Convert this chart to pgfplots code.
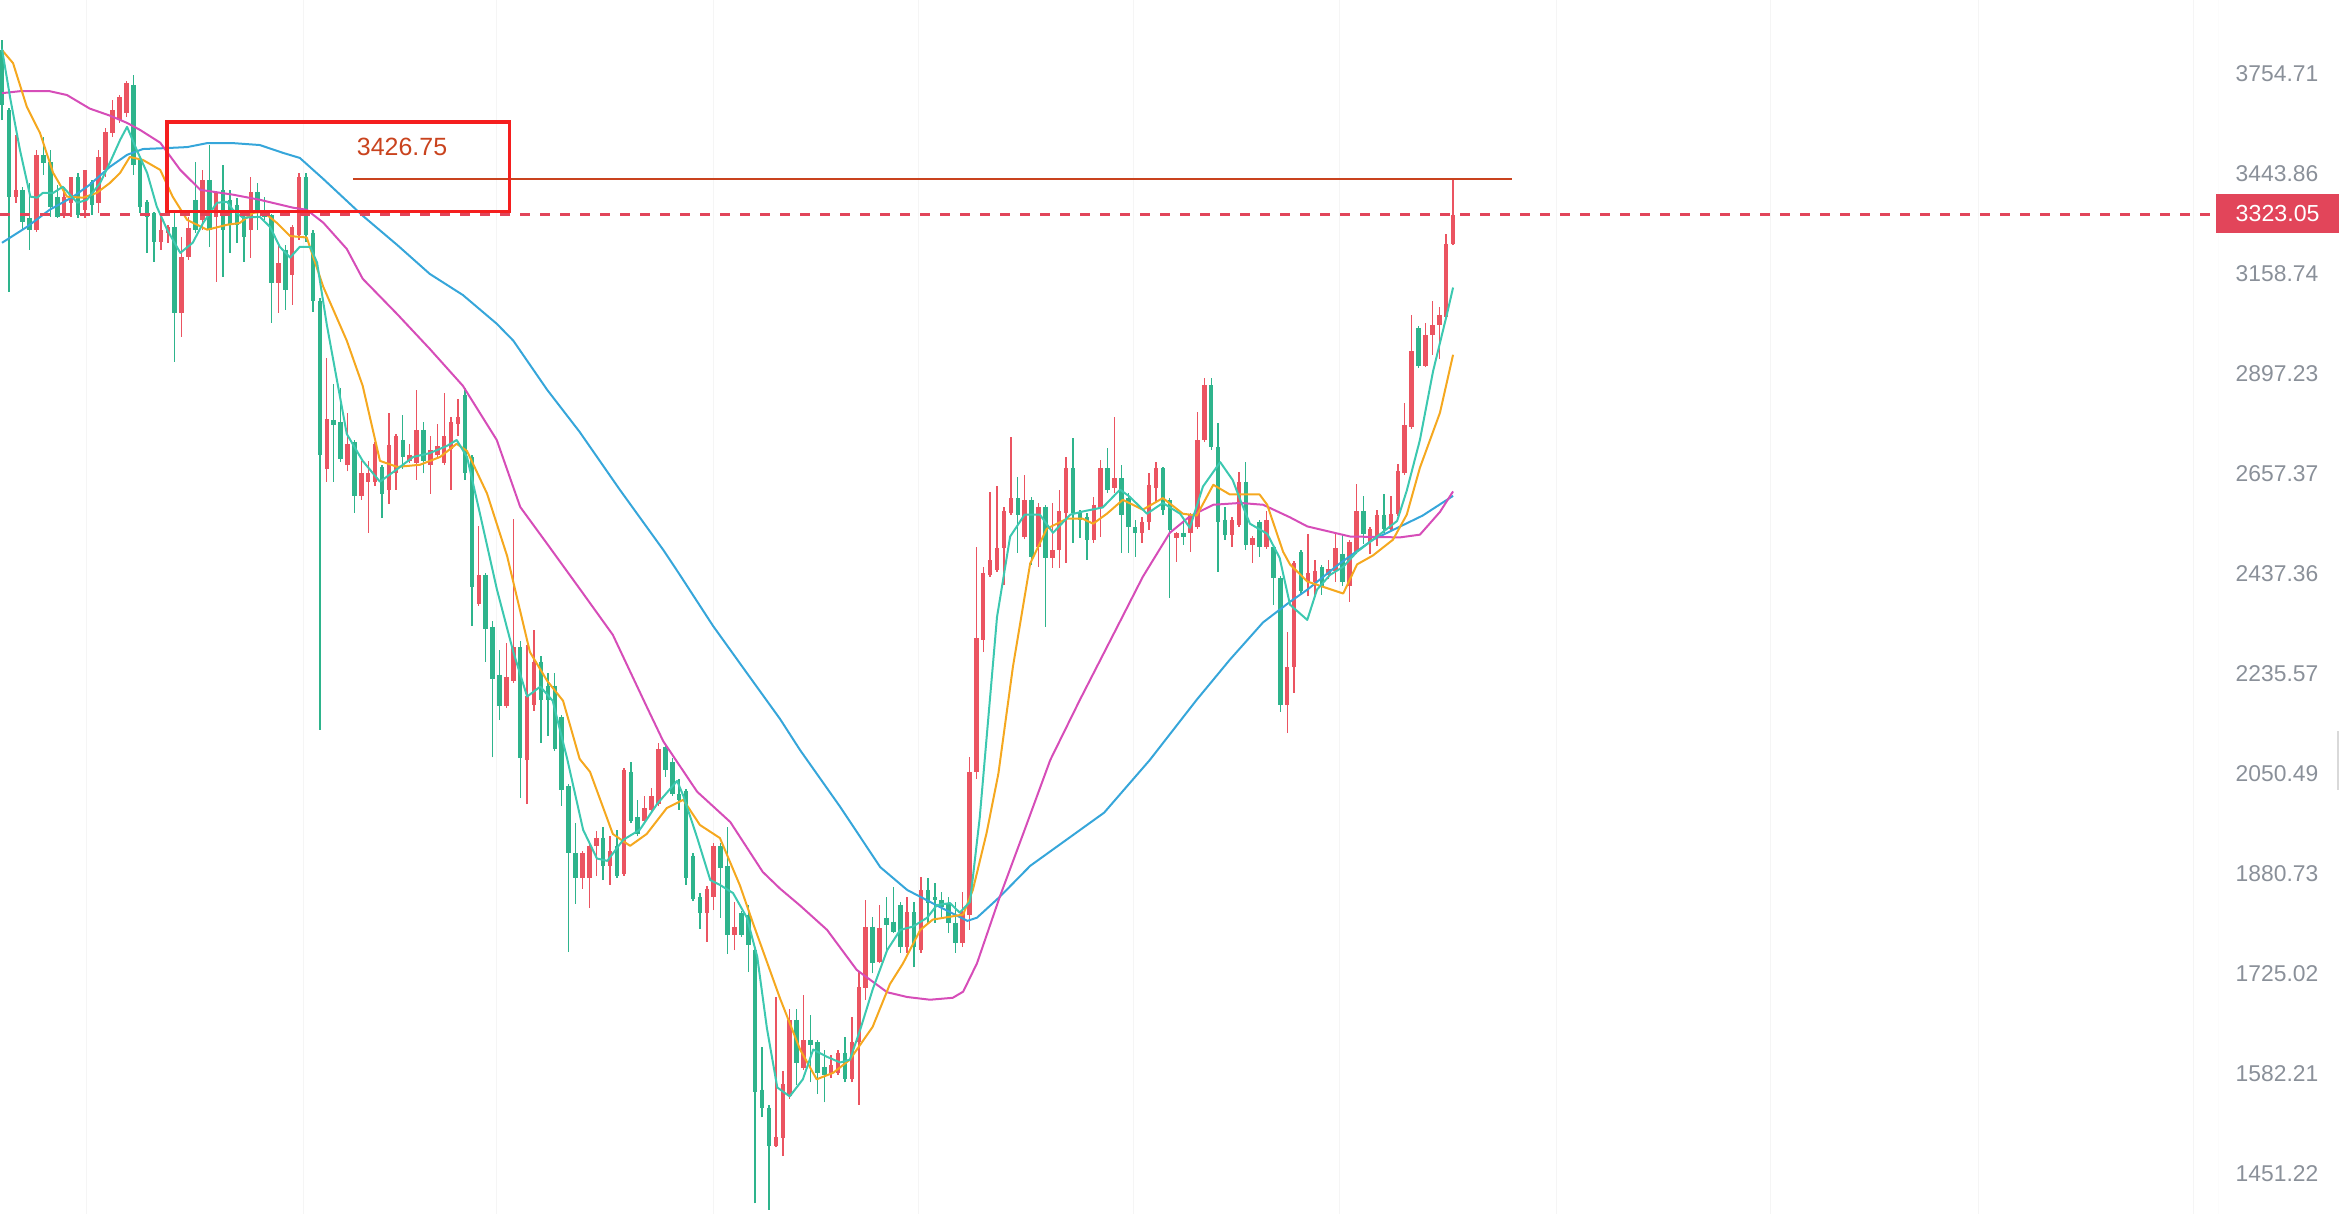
\documentclass[border=0pt]{standalone}
\usepackage{pgfplots}
\pgfplotsset{compat=1.18}
\usepackage{pgfplotstable}
\usepackage{fontspec}
\setmainfont{Liberation Sans}

\definecolor{upred}{HTML}{EB5461}
\definecolor{dngreen}{HTML}{2EB48C}
\definecolor{ma5}{HTML}{3CC8B0}
\definecolor{ma10}{HTML}{F5A81F}
\definecolor{ma30}{HTML}{D64DB8}
\definecolor{ma60}{HTML}{36A6DA}
\definecolor{boxred}{HTML}{F51E1E}
\definecolor{annot}{HTML}{C9431E}
\definecolor{lastred}{HTML}{E2455A}
\definecolor{ticktext}{HTML}{8A9099}

% daily candles: open high low close
\pgfplotstableread{
i o h l c
0 3831 3864 3606 3653
1 3638 3644 3109 3375
2 3375 3560 3357 3395
3 3395 3404 3280 3302
4 3314 3415 3224 3280
5 3280 3514 3274 3499
6 3499 3554 3439 3475
7 3478 3514 3317 3346
8 3375 3410 3314 3317
9 3328 3404 3314 3375
10 3357 3433 3317 3433
11 3433 3445 3314 3322
12 3337 3454 3314 3454
13 3418 3424 3322 3351
14 3357 3514 3328 3493
15 3454 3581 3433 3569
16 3566 3669 3554 3638
17 3606 3685 3597 3679
18 3628 3730 3616 3723
19 3717 3750 3439 3469
20 3484 3493 3328 3346
21 3360 3365 3215 3317
22 3328 3332 3191 3246
23 3246 3328 3224 3280
24 3271 3292 3243 3288
25 3288 3328 2926 3053
26 3053 3260 2990 3204
27 3204 3317 3196 3285
28 3366 3478 3271 3280
29 3308 3454 3280 3424
30 3424 3529 3232 3280
31 3317 3392 3136 3386
32 3395 3469 3149 3280
33 3366 3395 3215 3294
34 3351 3372 3243 3294
35 3317 3320 3191 3260
36 3280 3433 3202 3389
37 3389 3415 3280 3337
38 3337 3375 3308 3317
39 3322 3326 3026 3133
40 3133 3243 3053 3188
41 3224 3237 3061 3114
42 3155 3294 3074 3288
43 3265 3445 3251 3433
44 3433 3445 3246 3265
45 3271 3280 3055 3085
46 3085 3093 2129 2700
47 2667 2936 2638 2785
48 2783 2871 2638 2771
49 2778 2861 2683 2690
50 2676 2800 2662 2726
51 2730 2735 2568 2606
52 2606 2686 2597 2657
53 2638 2686 2524 2657
54 2638 2730 2629 2726
55 2672 2676 2557 2611
56 2620 2800 2588 2723
57 2657 2749 2620 2744
58 2735 2795 2667 2695
59 2686 2726 2681 2700
60 2681 2856 2642 2759
61 2759 2778 2657 2686
62 2676 2744 2611 2712
63 2700 2773 2695 2721
64 2681 2849 2676 2744
65 2714 2790 2620 2778
66 2773 2834 2744 2790
67 2844 2861 2642 2657
68 2695 2700 2329 2409
69 2374 2538 2370 2434
70 2434 2438 2258 2323
71 2327 2339 2079 2225
72 2233 2281 2147 2174
73 2174 2295 2170 2229
74 2221 2555 2217 2287
75 2287 2299 2007 2078
76 2074 2291 1997 2193
77 2176 2321 2164 2258
78 2258 2270 2105 2185
79 2212 2237 2118 2185
80 2212 2237 2090 2094
81 2153 2157 1994 2021
82 2028 2032 1757 1914
83 1914 1964 1832 1873
84 1873 1918 1856 1914
85 1873 1930 1825 1926
86 1926 1950 1877 1940
87 1940 1958 1870 1893
88 1893 1943 1862 1917
89 1926 1953 1873 1877
90 1880 2060 1877 2056
91 2053 2070 1964 1968
92 1974 2004 1942 1946
93 1968 2011 1962 1990
94 1987 2025 1982 2011
95 1997 2105 1993 2094
96 2097 2101 2044 2056
97 2070 2078 2011 2014
98 2014 2040 1987 2004
99 2019 2023 1862 1873
100 1910 1914 1836 1840
101 1843 1849 1793 1817
102 1817 1860 1773 1856
103 1843 1930 1822 1926
104 1926 1930 1810 1890
105 1893 1958 1754 1783
106 1783 1835 1760 1796
107 1817 1820 1780 1783
108 1815 1830 1727 1768
109 1760 1764 1414 1557
110 1560 1618 1523 1536
111 1536 1540 1406 1486
112 1486 1690 1484 1498
113 1496 1586 1473 1568
114 1552 1673 1548 1657
115 1657 1673 1567 1597
116 1590 1693 1587 1629
117 1629 1664 1570 1622
118 1625 1629 1554 1583
119 1591 1615 1543 1580
120 1583 1608 1576 1594
121 1583 1615 1580 1611
122 1611 1633 1570 1574
123 1574 1661 1570 1625
124 1625 1727 1540 1705
125 1704 1838 1686 1796
126 1796 1811 1725 1740
127 1742 1830 1740 1794
128 1810 1843 1760 1799
129 1804 1859 1786 1788
130 1830 1835 1756 1765
131 1765 1843 1756 1819
132 1819 1835 1734 1765
133 1760 1875 1756 1854
134 1854 1873 1802 1833
135 1843 1865 1802 1838
136 1838 1851 1811 1827
137 1833 1843 1786 1802
138 1802 1835 1756 1771
139 1771 1851 1765 1819
140 1815 2079 1791 2053
141 2053 2494 2041 2305
142 2301 2451 2277 2438
143 2434 2615 2430 2466
144 2445 2629 2440 2491
145 2491 2580 2413 2571
146 2568 2742 2564 2601
147 2601 2648 2481 2564
148 2515 2653 2510 2597
149 2597 2604 2455 2472
150 2494 2590 2451 2582
151 2582 2586 2327 2470
152 2470 2590 2449 2487
153 2487 2620 2449 2571
154 2568 2695 2460 2669
155 2669 2740 2502 2568
156 2568 2575 2513 2553
157 2559 2568 2466 2509
158 2509 2604 2502 2586
159 2579 2688 2515 2669
160 2669 2716 2613 2620
161 2624 2790 2613 2646
162 2646 2676 2481 2564
163 2601 2613 2481 2537
164 2537 2553 2472 2524
165 2524 2559 2502 2548
166 2548 2658 2531 2631
167 2624 2683 2590 2669
168 2669 2672 2564 2575
169 2597 2601 2386 2531
170 2513 2526 2462 2524
171 2524 2553 2498 2515
172 2524 2568 2483 2564
173 2537 2802 2532 2735
174 2735 2886 2730 2868
175 2868 2886 2712 2718
176 2718 2776 2441 2548
177 2553 2582 2509 2520
178 2520 2559 2494 2553
179 2542 2660 2537 2638
180 2638 2683 2487 2498
181 2498 2517 2460 2513
182 2548 2552 2472 2494
183 2494 2571 2490 2553
184 2494 2498 2372 2428
185 2428 2432 2162 2176
186 2176 2317 2123 2248
187 2248 2464 2198 2460
188 2483 2487 2393 2401
189 2418 2522 2389 2438
190 2418 2466 2393 2443
191 2451 2455 2393 2411
192 2434 2466 2426 2447
193 2443 2522 2420 2491
194 2479 2522 2411 2420
195 2411 2509 2378 2505
196 2483 2633 2479 2571
197 2571 2606 2500 2522
198 2505 2537 2479 2533
199 2515 2575 2496 2564
200 2564 2611 2524 2533
201 2533 2606 2529 2566
202 2566 2679 2562 2662
203 2657 2825 2653 2771
204 2766 3048 2762 2954
205 3013 3018 2911 2916
206 2916 3026 2912 2995
207 2995 3085 2944 3021
208 3021 3069 2934 3048
209 3042 3268 3038 3240
210 3240 3426.75 3236 3323.05
}\ohlc

\begin{document}
\begin{tikzpicture}
\useasboundingbox (0,0) rectangle (23.4,12.14);

% split candles into rising (red) and falling (green) segment lists
\def\upw{}\def\upb{}\def\dnw{}\def\dnb{}
\pgfplotsforeachungrouped \k in {0,...,210}{%
  \pgfplotstablegetelem{\k}{o}\of\ohlc \let\vo\pgfplotsretval
  \pgfplotstablegetelem{\k}{h}\of\ohlc \let\vh\pgfplotsretval
  \pgfplotstablegetelem{\k}{l}\of\ohlc \let\vl\pgfplotsretval
  \pgfplotstablegetelem{\k}{c}\of\ohlc \let\vc\pgfplotsretval
  \ifdim\vc pt<\vo pt
    \xdef\dnw{\dnw(\k,\vl)(\k,\vh)(\k,nan)}%
    \xdef\dnb{\dnb(\k,\vo)(\k,\vc)(\k,nan)}%
  \else
    \xdef\upw{\upw(\k,\vl)(\k,\vh)(\k,nan)}%
    \xdef\upb{\upb(\k,\vo)(\k,\vc)(\k,nan)}%
  \fi
}

\begin{axis}[
  at={(0,0)}, anchor=south west,
  scale only axis, width=22.18cm, height=12.14cm,
  xmin=-0.289, xmax=320.7,
  ymode=log, ymin=1401.2, ymax=4000.3,
  axis line style={draw=none},
  xtick={12.3,43.6,71.6,102.9,132.6,163.8,193.6,224.9,255.9,286.1,317.2},
  xticklabels={},
  xmajorgrids,
  major grid style={draw=black!4, line width=0.1mm},
  ytick={1451.22,1582.21,1725.02,1880.73,2050.49,2235.57,2437.36,2657.37,2897.23,3158.74,3443.86,3754.71},
  yticklabels={1451.22,1582.21,1725.02,1880.73,2050.49,2235.57,2437.36,2657.37,2897.23,3158.74,3443.86,3754.71},
  yticklabel pos=right,
  yticklabel style={anchor=west, inner sep=0pt, xshift=1.7mm,
    font=\fontsize{6.5}{7}\selectfont, text=ticktext},
  major tick length=0pt,
  tick style={draw=none},
  unbounded coords=jump,
  wick/.style={line width=0.14mm, mark=none, forget plot},
  body/.style={line width=0.45mm, line cap=butt, mark=none, forget plot},
  ma/.style={line width=0.2mm, mark=none, line join=round, forget plot},
]
\draw[black!8, line width=0.1mm] (rel axis cs:1,0) -- (rel axis cs:1,1);

\edef\tmp{\noexpand\addplot[draw=dngreen, wick] coordinates {\dnw};}\tmp
\edef\tmp{\noexpand\addplot[draw=dngreen, body] coordinates {\dnb};}\tmp
\edef\tmp{\noexpand\addplot[draw=upred, wick] coordinates {\upw};}\tmp
\edef\tmp{\noexpand\addplot[draw=upred, body] coordinates {\upb};}\tmp

% MA60
\addplot[ma, draw=ma60] coordinates {
(0,3243) (3.6,3288) (6.9,3337) (10.3,3375) (12.7,3410) (15.6,3463) (18.1,3499)
(20.4,3517) (23.9,3520) (26.8,3523) (29.7,3535) (33.4,3535) (37.3,3529) (40.7,3505)
(43.1,3490) (46.5,3427) (52.2,3320) (57.2,3237) (61.9,3157) (66.7,3100) (71.6,3024)
(74,2980) (78.9,2856) (83.6,2754) (89.4,2620) (95.7,2487) (98.1,2434) (102.9,2329)
(107.8,2236) (112.6,2149) (115.5,2092) (121.3,1992) (127.1,1891) (131,1854)
(135.7,1827) (139.7,1805) (141.1,1810) (144.4,1843) (148.8,1893) (159.5,1982)
(166.1,2074) (172.9,2185) (177.7,2262) (182.5,2336) (186.4,2378) (188.9,2403)
(193.6,2458) (198.4,2509) (205.6,2562) (210,2606)
};
% MA30
\addplot[ma, draw=ma30] coordinates {
(0,3691) (2.6,3697) (6.9,3697) (9.4,3685) (12.7,3642) (15.6,3620) (18.1,3597)
(20,3575) (22.9,3536) (25.8,3454) (28.7,3395) (33.4,3381) (37.3,3366) (42.1,3343)
(44.1,3337) (46.5,3300) (49.9,3226) (52.2,3144) (57.2,3049) (61.9,2959) (66.7,2866)
(71.6,2735) (75,2581) (78.9,2500) (83.6,2405) (88.4,2311) (93.3,2172) (95.7,2108)
(100.6,2018) (105.4,1966) (110.1,1883) (112.6,1856) (115.5,1829) (119.4,1791)
(123.7,1730) (128.1,1697) (131,1690) (134.3,1686) (137.6,1689) (139.1,1698)
(141.1,1740) (144.4,1843) (148,1953) (151.7,2074) (156,2185) (161.4,2327)
(165.1,2430) (169,2524) (171.9,2560) (175.3,2586) (179.2,2590) (182.5,2586)
(186.4,2558) (188.9,2538) (195.1,2516) (202.3,2514) (205.2,2520) (208.1,2570) (210,2616)
};
% MA10
\addplot[ma, draw=ma10] coordinates {
(0,3831) (1.6,3788) (3.6,3647) (5.5,3566) (7.4,3445) (9.4,3375) (11.7,3372)
(13.7,3386) (15.6,3415) (17.1,3445) (18.5,3493) (20.4,3484) (22.9,3454) (24.7,3375)
(26.8,3308) (29.7,3280) (32.6,3294) (34.4,3299) (36.3,3328) (37.8,3331) (39.8,3299)
(41.7,3262) (44.1,3258) (46.5,3122) (49.9,2980) (52.2,2866) (54.7,2686) (57.2,2672)
(60.5,2677) (63.4,2695) (65.8,2726) (67.3,2709) (70.2,2611) (73.1,2474) (76.4,2277)
(78.9,2221) (81.2,2183) (83.6,2076) (85.1,2053) (88.4,1946) (90.9,1926) (93.3,1946)
(96.2,1990) (98.6,2004) (101,1961) (103.9,1939) (106.8,1861) (108.7,1801)
(112.6,1688) (115.5,1615) (117.9,1574) (120.3,1583) (122.7,1601) (126,1647)
(128.5,1709) (130.4,1740) (132.9,1791) (134.7,1807) (139.1,1815) (140.5,1854)
(142.5,1948) (144.2,2050) (146.3,2248) (148.8,2458) (151.2,2533) (154.1,2555)
(156.4,2555) (157.9,2544) (159.9,2566) (162.2,2597) (165.1,2575) (168,2601)
(170.9,2566) (172.9,2562) (175.3,2631) (177.7,2609) (182,2609) (183.1,2586)
(185.4,2483) (186.4,2456) (188.9,2420) (194.1,2395) (196.1,2456) (198.4,2475)
(201.3,2509) (203.3,2564) (205.2,2670) (208.1,2800) (210,2944)
};
% MA5
\addplot[ma, draw=ma5] coordinates {
(0,3835) (1.2,3674) (2.6,3514) (4.1,3375) (5.1,3372) (5.9,3386) (7.4,3386)
(8.8,3404) (10.9,3357) (12.3,3366) (14.2,3415) (15.6,3475) (17.1,3545) (18.1,3585)
(19.5,3514) (21,3445) (22.4,3346) (23.9,3280) (25.8,3215) (27.6,3243) (29.1,3299)
(31.1,3357) (32.6,3360) (33.4,3337) (34.9,3314) (37.3,3317) (38.8,3288) (40.2,3232)
(41.7,3202) (43.1,3232) (44.6,3232) (45.6,3188) (47,3022) (49.9,2749) (52.2,2686)
(54.7,2638) (57.2,2667) (59.5,2695) (61.9,2704) (64.4,2721) (65.8,2735) (67.3,2695)
(69.2,2564) (71.6,2405) (74,2277) (76,2191) (77.9,2210) (79.7,2183) (81.8,2076)
(84.1,1953) (86.1,1905) (87.6,1901) (89.9,1936) (92.3,1953) (94.8,1997) (97.7,2037)
(98.6,2011) (100.6,1940) (102.5,1870) (103.9,1862) (105.8,1849) (107.8,1810)
(109.3,1750) (110.7,1645) (112.2,1563) (114,1551) (115.9,1574) (117.4,1615)
(119.4,1605) (121.3,1597) (122.7,1601) (124.2,1643) (126,1701) (128.1,1760)
(130,1791) (131.8,1796) (133.9,1810) (135.3,1830) (137.2,1833) (138.6,1818)
(140.1,1835) (141.5,1974) (144,2347) (145.9,2516) (148,2564) (150.2,2564)
(152.1,2524) (154.6,2564) (156.4,2571) (159.3,2580) (161.8,2620) (163.2,2604)
(165.7,2566) (168,2590) (170.5,2566) (171.9,2535) (173.8,2627) (176.3,2683)
(178.1,2642) (179.2,2597) (180.6,2544) (183.1,2522) (184.9,2470) (186.4,2372)
(188.9,2341) (190.3,2403) (192.2,2434) (194.1,2451) (196.1,2483) (198.4,2509)
(201.9,2550) (203.3,2618) (205.2,2735) (207.1,2902) (209.1,3048) (210,3120)
};

% last price and marked high
\draw[lastred, line width=0.22mm, dash pattern=on 1mm off 1mm]
  (axis cs:-0.289,3323.05) -- (axis cs:320.4,3323.05);
\draw[annot, line width=0.16mm] (axis cs:50.8,3426.75) -- (axis cs:218.5,3426.75);
\draw[boxred, line width=0.33mm] (axis cs:23.9,3600) rectangle (axis cs:73.4,3331);
\node[text=annot, font=\fontsize{7.1}{8}\selectfont] at (axis cs:57.9,3523) {3426.75};
\end{axis}

\fill[lastred] (22.16,9.81) rectangle (23.39,10.20);
\node[anchor=west, inner sep=0pt, text=white, font=\fontsize{6.6}{7}\selectfont]
  at (22.35,10.007) {3323.05};
\draw[black!15, line width=0.25mm] (23.38,4.83) -- (23.38,4.24);
\end{tikzpicture}
\end{document}
